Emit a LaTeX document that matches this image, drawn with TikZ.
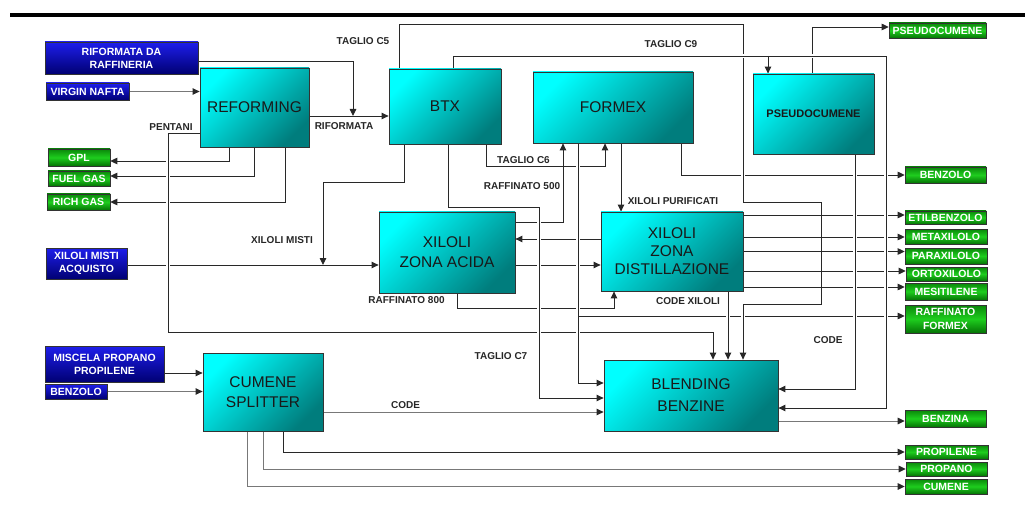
\documentclass[tikz,border=0pt]{standalone}
\usepackage{fontspec}
\setmainfont{Liberation Sans}
\usetikzlibrary{arrows.meta,calc}
\pgfdeclarelayer{bg}
\pgfsetlayers{bg,main}
\definecolor{cyanA}{RGB}{0,255,255}
\definecolor{cyanB}{RGB}{0,125,125}
\definecolor{blueA}{RGB}{30,30,235}
\definecolor{blueB}{RGB}{0,0,115}
\definecolor{grnA}{RGB}{10,135,10}
\definecolor{grnM}{RGB}{30,205,30}
\definecolor{grnB}{RGB}{5,115,5}
\definecolor{lnc}{RGB}{40,40,40}
\definecolor{lngc}{RGB}{120,120,120}
\begin{document}
\begin{tikzpicture}[x=1pt,y=-1pt,
  proc/.style={draw=black!80, line width=0.8pt, top color=cyanA, bottom color=cyanB, shading angle=45, inner sep=0pt, align=center, font=\fontsize{15.5}{20}\selectfont, text=black!90},
  inbox/.style={draw=black!80, line width=0.6pt, top color=blueA, bottom color=blueB, text=white, inner sep=0pt, align=center, font=\fontsize{10.5}{13}\selectfont\bfseries},
  outbox/.style={draw=black!80, line width=0.6pt, top color=grnA, bottom color=grnB, middle color=grnM, text=white, inner sep=0pt, align=center, font=\fontsize{10.5}{14}\selectfont\bfseries},
  lbl/.style={font=\fontsize{10}{12}\selectfont\bfseries, text=black!85, inner sep=0pt},
  ln/.style={draw=lnc, line width=0.9pt, -{Triangle[length=7pt,width=6.5pt]}},
  lng/.style={draw=lngc, line width=1pt, -{Triangle[length=7pt,width=6.5pt,color=lnc]}},
  gap/.style={preaction={draw=white, line width=3.5pt, -}}
]
\useasboundingbox (0,0) rectangle (1025,513);
\fill[black] (10,13) rectangle (1025,17.5);

% process boxes
\node[proc, minimum width=109pt, minimum height=79pt] (ref) at (254.5,107.5) {REFORMING};
\node[proc, minimum width=112pt, minimum height=75pt] (btx) at (445,106.5) {BTX};
\node[proc, minimum width=160pt, minimum height=71pt] (formex) at (613,107.5) {FORMEX};
\node[proc, minimum width=121pt, minimum height=80pt, font=\fontsize{11}{13}\selectfont\bfseries] (pseudo) at (813.5,114) {PSEUDOCUMENE};
\node[proc, minimum width=136pt, minimum height=81pt] (acida) at (447,252.5) {XILOLI\\ZONA ACIDA};
\node[proc, minimum width=142pt, minimum height=79pt, font=\fontsize{15.5}{18}\selectfont] (dist) at (672,251.5) {XILOLI\\ZONA\\DISTILLAZIONE};
\node[proc, minimum width=120pt, minimum height=78pt] (cumene) at (263,392) {CUMENE\\SPLITTER};
\node[proc, minimum width=174pt, minimum height=71pt, font=\fontsize{15.5}{22}\selectfont] (blend) at (691,395.5) {BLENDING\\BENZINE};

% inputs
\node[inbox, minimum width=153pt, minimum height=32pt] (rifr) at (121.5,58) {RIFORMATA DA\\RAFFINERIA};
\node[inbox, minimum width=83pt, minimum height=17pt] (vn) at (87.5,91.5) {VIRGIN NAFTA};
\node[inbox, minimum width=81pt, minimum height=31pt] (xma) at (86.5,263.5) {XILOLI MISTI\\ACQUISTO};
\node[inbox, minimum width=119pt, minimum height=36pt] (mpp) at (104.5,364) {MISCELA PROPANO\\PROPILENE};
\node[inbox, minimum width=62pt, minimum height=15pt] (bzin) at (76,391.5) {BENZOLO};

% outputs
\node[outbox, minimum width=62pt, minimum height=17pt] (gpl) at (79,157.5) {GPL};
\node[outbox, minimum width=62pt, minimum height=15pt] (fg) at (79,178.5) {FUEL GAS};
\node[outbox, minimum width=63pt, minimum height=16pt] (rg) at (78.5,202) {RICH GAS};
\node[outbox, minimum width=97pt, minimum height=15pt] (gpseudo) at (937.5,30.5) {PSEUDOCUMENE};
\node[outbox, minimum width=81pt, minimum height=16pt] (gbenz) at (945.5,175) {BENZOLO};
\node[outbox, minimum width=81pt, minimum height=13pt] (etil) at (945.5,217.5) {ETILBENZOLO};
\node[outbox, minimum width=82pt, minimum height=15pt] (meta) at (946,236.5) {METAXILOLO};
\node[outbox, minimum width=82pt, minimum height=16pt] (para) at (946,256) {PARAXILOLO};
\node[outbox, minimum width=81pt, minimum height=14pt] (orto) at (946.5,274) {ORTOXILOLO};
\node[outbox, minimum width=82pt, minimum height=17pt] (mesi) at (946,291.5) {MESITILENE};
\node[outbox, minimum width=81pt, minimum height=28pt] (rafform) at (945.5,319) {RAFFINATO\\FORMEX};
\node[outbox, minimum width=81pt, minimum height=17pt] (benzina) at (945.5,418.5) {BENZINA};
\node[outbox, minimum width=83pt, minimum height=14pt] (propilene) at (946.5,452) {PROPILENE};
\node[outbox, minimum width=81pt, minimum height=14pt] (propano) at (946.5,469) {PROPANO};
\node[outbox, minimum width=82pt, minimum height=15pt] (cumeneo) at (946,486.5) {CUMENE};

% labels
\node[lbl] (lC5) at (363,41) {TAGLIO C5};
\node[lbl] (lC9) at (671,44) {TAGLIO C9};
\node[lbl] (lrif) at (344,126) {RIFORMATA};
\node[lbl] (lpen) at (171,127) {PENTANI};
\node[lbl] (lC6) at (523.5,160) {TAGLIO C6};
\node[lbl] (lr500) at (522,186) {RAFFINATO 500};
\node[lbl] (lxp) at (673,201) {XILOLI PURIFICATI};
\node[lbl] (lxm) at (282,240) {XILOLI MISTI};
\node[lbl] (lr800) at (406.5,300.5) {RAFFINATO 800};
\node[lbl] (lcx) at (688,301) {CODE XILOLI};
\node[lbl] (lcode1) at (828,340) {CODE};
\node[lbl] (lC7) at (501,356.5) {TAGLIO C7};
\node[lbl] (lcode2) at (405.5,405.5) {CODE};

\begin{pgfonlayer}{bg}
\coordinate (j1) at (353,116);
\coordinate (j2) at (323,265);
\coordinate (j3) at (768,56);
\coordinate (j4) at (578,316);
% plain connectors
\draw[ln] ([yshift=-3pt]rifr.east) -| (j1);
\draw[ln] (ref.east |- j1) -- (btx.west |- j1);
\draw[lng] (vn.east) -- (ref.west |- vn.east);
\draw[ln] ([xshift=-25.5pt]ref.south) |- ([yshift=-3.5pt]gpl.east);
\draw[ln] (ref.south) |- ([yshift=2.5pt]fg.east);
\draw[ln] ([xshift=30.5pt]ref.south) |- (rg.east);
\draw[ln] (xma.east |- j2) -- (acida.west |- j2);
\draw[ln] ([xshift=-41pt]btx.south) |- (323,182) -- (j2);
\draw[ln] ([xshift=41pt]btx.south) |- (605,166) -- ([xshift=-8pt]formex.south);
\draw[ln] ([yshift=30.5pt]acida.east) -| ([xshift=-50pt]formex.south);
\draw[ln] ([xshift=8pt]formex.south) -- ([xshift=8pt]formex.south |- dist.north);
\draw[ln] ([xshift=68pt]formex.south) |- (gbenz.west);
\draw[ln] ([yshift=12.5pt]dist.west) -- ([yshift=12.5pt]dist.west -| acida.east);
\draw[ln] ([yshift=-12.5pt]acida.east) -- ([yshift=-12.5pt]acida.east -| dist.west);
\draw[ln] ([xshift=10pt]acida.south) |- (614,308) -- ([xshift=-58pt]dist.south);
\draw[lng] ([yshift=-25.5pt]blend.east) -- ([yshift=-25.5pt]blend.east -| benzina.west);
\draw[ln] ([yshift=-9pt]mpp.east) -- ([yshift=-9pt]mpp.east -| cumene.west);
\draw[lng] (bzin.east) -- (bzin.east -| cumene.west);
\draw[lng] ([yshift=-20pt]cumene.east) -- ([yshift=-20pt]cumene.east -| blend.west);
\draw[ln] ([xshift=20pt]cumene.south) |- (propilene.west);
\draw[lng] (cumene.south) |- (propano.west);
\draw[lng] ([xshift=-16pt]cumene.south) |- (cumeneo.west);
\draw[ln] ([xshift=-1.5pt]pseudo.north) |- ([yshift=3.5pt]gpseudo.west);
% connectors that cut the lines they cross
\draw[ln,gap] ([yshift=-25.5pt]ref.west) -| (168,332) -| ([xshift=22pt]blend.north);
\draw[ln,gap] ([xshift=-35pt]formex.south) |- ([yshift=12.5pt]blend.west);
\draw[ln] (j4) -- (j4 -| rafform.west);
\draw[ln,gap] ([xshift=-46pt]btx.north) |- (743,24) |- (821,202) |- (743,304) -- ([xshift=52pt]blend.north);
% outputs of the distillation, over TAGLIO C5
\draw[ln] ([yshift=36.5pt]dist.east) -- ([yshift=36.5pt]dist.east -| etil.west);
\draw[ln] ([yshift=14.5pt]dist.east) -- ([yshift=14.5pt]dist.east -| meta.west);
\draw[ln] (dist.east) -- (dist.east -| para.west);
\draw[ln] ([yshift=-19.5pt]dist.east) -- ([yshift=-19.5pt]dist.east -| orto.west);
\draw[ln] ([yshift=-35.5pt]dist.east) -- ([yshift=-35.5pt]dist.east -| mesi.west);
\draw[ln,gap] ([xshift=8pt]btx.north) |- (886,56) |- ([yshift=-12.5pt]blend.east);
\draw[ln] (j3) -- (j3 |- pseudo.north);
\draw[ln,gap] ([xshift=41.5pt]pseudo.south) |- ([yshift=6.5pt]blend.east);
\draw[ln,gap] ([xshift=3pt]btx.south) |- (539,207) |- ([yshift=-2.5pt]blend.west);
\draw[ln,gap] ([xshift=56pt]dist.south) -- ([xshift=56pt]dist.south |- blend.north);
\end{pgfonlayer}
\end{tikzpicture}
\end{document}
